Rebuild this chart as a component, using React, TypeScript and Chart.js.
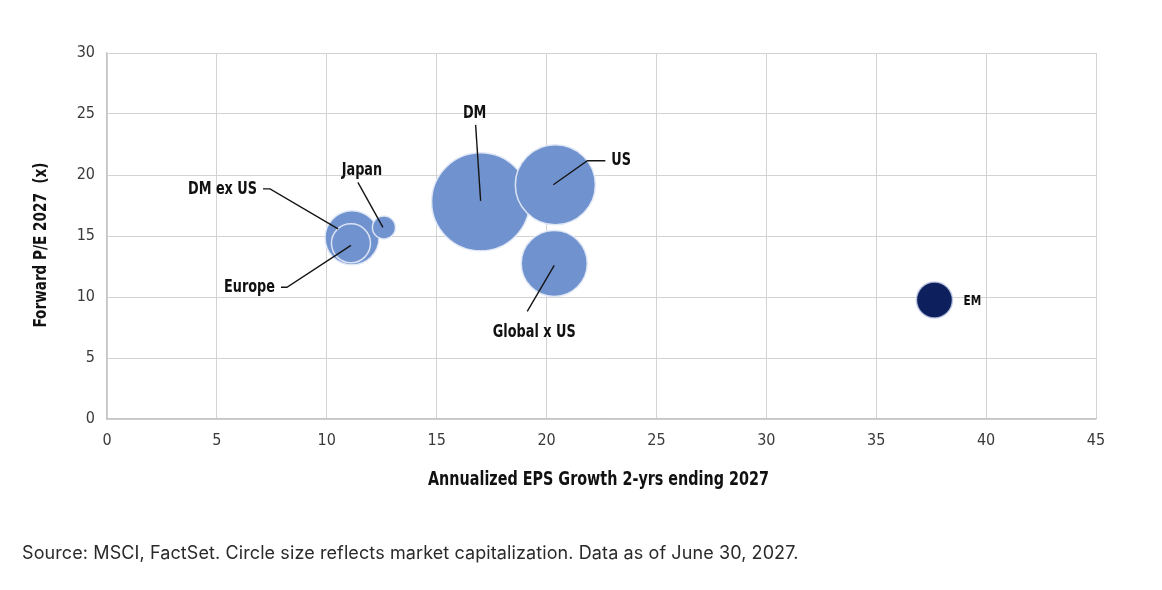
import { useEffect, useRef } from "react";
import { Chart, registerables } from "chart.js";

Chart.register(...registerables);

// Regions plotted: EPS growth (x), forward P/E (y), bubble radius (market cap)
const regions = ["DM", "US", "Global x US", "DM ex US", "Europe", "Japan", "EM"];
const epsGrowth = [17.0, 20.4, 20.35, 11.15, 11.1, 12.6, 37.65];
const forwardPE = [17.8, 19.2, 12.75, 14.85, 14.4, 15.7, 9.75];
const bubbleRadius = [49, 40, 33, 27, 19.5, 11.5, 18];

const xMin = 0;
const xMax = 45;
const yMin = 0;
const yMax = 30;
const tickStep = 5;

const xTitle = "Annualized EPS Growth 2-yrs ending 2027";
const yTitle = "Forward P/E 2027  (x)";
const sourceNote =
  "Source: MSCI, FactSet. Circle size reflects market capitalization. Data as of June 30, 2027.";

// Styling
const NARROW = "'DejaVu Sans Condensed', 'Liberation Sans', sans-serif";
const LIGHT_BLUE = "#7093cf";
const NAVY = "#0d1f5c";
const GRID = "#d3d3d3";
const SQUEEZE = 0.84; // horizontal squeeze for the bold narrow lettering

// Callout placement relative to each bubble centre (pixels)
type Callout = {
  dx: number;
  dy: number;
  align: CanvasTextAlign;
  size: number;
  leader: [number, number][];
};
const callouts: Record<string, Callout> = {
  DM: { dx: -6, dy: -88, align: "center", size: 17, leader: [[-5, -77], [0, -1]] },
  US: { dx: 56, dy: -24, align: "left", size: 17, leader: [[50, -24], [32, -24], [-2, 0]] },
  "Global x US": { dx: -20, dy: 69, align: "center", size: 17, leader: [[-27, 48], [0, 2]] },
  "DM ex US": { dx: -95, dy: -48, align: "right", size: 17, leader: [[-89, -49], [-82, -49], [-14, -9]] },
  Europe: { dx: -76, dy: 44, align: "right", size: 17, leader: [[-70, 44], [-64, 44], [0, 2]] },
  Japan: { dx: -22, dy: -57, align: "center", size: 17, leader: [[-26, -45], [-1, 0]] },
  EM: { dx: 29, dy: 1, align: "left", size: 14, leader: [] },
};

function narrowText(
  ctx: CanvasRenderingContext2D,
  text: string,
  x: number,
  y: number,
  size: number,
  align: CanvasTextAlign,
  rotate = 0
) {
  ctx.save();
  ctx.translate(x, y);
  if (rotate) ctx.rotate(rotate);
  ctx.scale(SQUEEZE, 1);
  ctx.font = `bold ${size}px ${NARROW}`;
  ctx.fillStyle = "#111111";
  ctx.textAlign = align;
  ctx.textBaseline = "middle";
  ctx.fillText(text, 0, 0);
  ctx.restore();
}

const calloutPlugin = {
  id: "callouts",
  afterDatasetsDraw(chart: any) {
    const ctx: CanvasRenderingContext2D = chart.ctx;
    const meta = chart.getDatasetMeta(0);
    meta.data.forEach((pt: any, i: number) => {
      const c = callouts[regions[i]];
      if (!c) return;
      const { x, y } = pt;
      if (c.leader.length) {
        ctx.save();
        ctx.strokeStyle = "#151515";
        ctx.lineWidth = 1.4;
        ctx.beginPath();
        c.leader.forEach(([dx, dy], k) => {
          if (k === 0) ctx.moveTo(x + dx, y + dy);
          else ctx.lineTo(x + dx, y + dy);
        });
        ctx.stroke();
        ctx.restore();
      }
      narrowText(ctx, regions[i], x + c.dx, y + c.dy, c.size, c.align);
    });
  },
};

// Axis titles, set in squeezed bold lettering around the plot area
const axisTitlePlugin = {
  id: "axisTitles",
  afterDraw(chart: any) {
    const ctx: CanvasRenderingContext2D = chart.ctx;
    const { left, right, top, bottom } = chart.chartArea;
    narrowText(ctx, xTitle, (left + right) / 2 - 3, bottom + 61, 19, "center");
    narrowText(ctx, yTitle, 41, (top + bottom) / 2 + 9, 18, "center", -Math.PI / 2);
  },
};

export default function App() {
  const canvasRef = useRef<HTMLCanvasElement | null>(null);

  useEffect(() => {
    document.body.style.margin = "0";
    const canvas = canvasRef.current;
    if (!canvas) return;

    const points = regions.map((_, i) => ({
      x: epsGrowth[i],
      y: forwardPE[i],
      r: bubbleRadius[i],
    }));
    const fills = regions.map((r) => (r === "EM" ? NAVY : LIGHT_BLUE));
    const borders = regions.map((r) =>
      r === "EM" ? "rgba(190,200,230,0.85)" : "rgba(225,232,246,0.95)"
    );

    const chart = new Chart(canvas, {
      type: "bubble",
      data: {
        datasets: [
          {
            label: "Regions",
            data: points,
            backgroundColor: fills,
            borderColor: borders,
            borderWidth: 1.5,
          },
        ],
      },
      options: {
        responsive: false,
        animation: false,
        layout: { padding: { top: 53, right: 66, left: 0, bottom: 0 } },
        plugins: {
          legend: { display: false },
          tooltip: { enabled: false },
        },
        scales: {
          x: {
            type: "linear",
            min: xMin,
            max: xMax,
            ticks: {
              stepSize: tickStep,
              padding: 12,
              color: "#3a3a3a",
              font: { family: NARROW, size: 16 },
            },
            grid: { color: GRID, drawTicks: false, lineWidth: 1 },
            border: { color: "#c4c4c4", width: 1.2 },
            afterFit(scale: any) {
              scale.height = 171;
            },
          },
          y: {
            type: "linear",
            min: yMin,
            max: yMax,
            ticks: {
              stepSize: tickStep,
              padding: 12,
              color: "#3a3a3a",
              font: { family: NARROW, size: 16 },
            },
            grid: { color: GRID, drawTicks: false, lineWidth: 1 },
            border: { color: "#c4c4c4", width: 1.2 },
            afterFit(scale: any) {
              scale.width = 107;
            },
          },
        },
      },
      plugins: [calloutPlugin, axisTitlePlugin],
    });

    return () => chart.destroy();
  }, []);

  return (
    <div style={{ position: "relative", width: 1162, height: 590, background: "#ffffff" }}>
      <canvas ref={canvasRef} width={1162} height={590} style={{ display: "block" }} />
      <div
        style={{
          position: "absolute",
          left: 22,
          top: 542,
          fontFamily: "Inter, 'Noto Sans', sans-serif",
          fontSize: 18,
          letterSpacing: "0.1px",
          lineHeight: "22px",
          color: "#2a2a2a",
          whiteSpace: "nowrap",
        }}
      >
        {sourceNote}
      </div>
    </div>
  );
}
